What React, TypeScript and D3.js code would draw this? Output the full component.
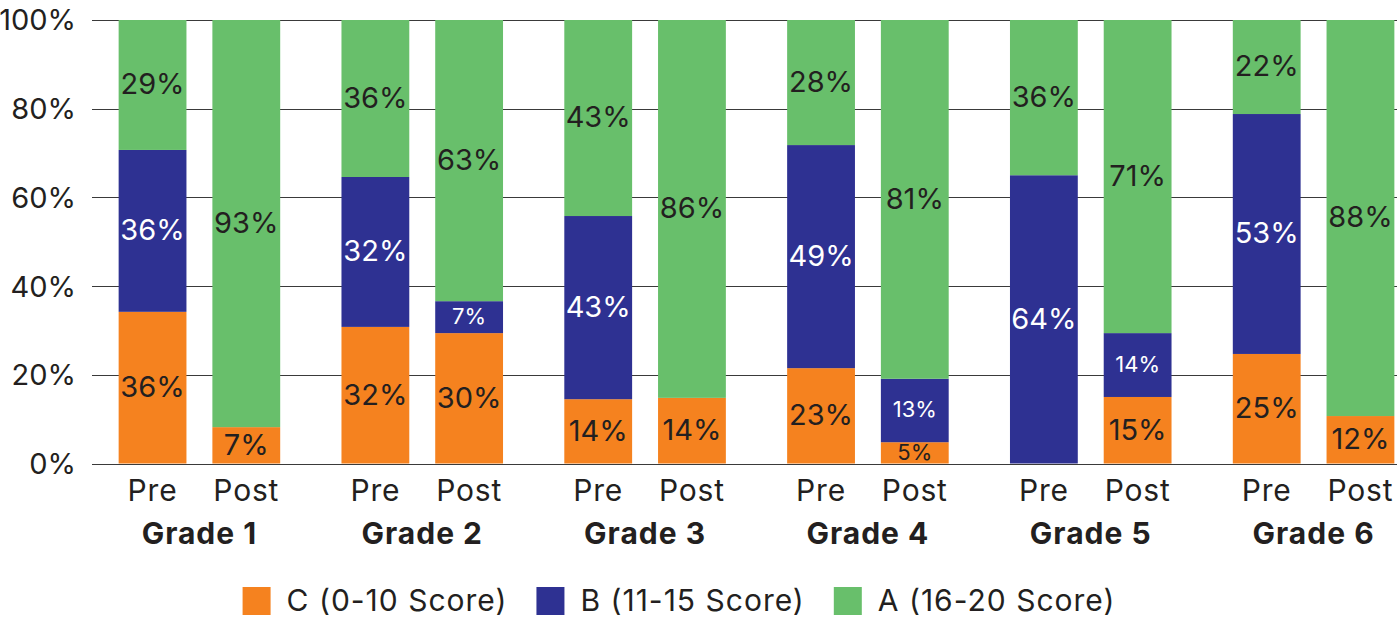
import React, { useEffect, useRef } from 'react'
import * as d3 from 'd3'

const grades = ['Grade 1', 'Grade 2', 'Grade 3', 'Grade 4', 'Grade 5', 'Grade 6']
const phases = ['Pre', 'Post']

// share of each bar (percent of bar height), order: G1 Pre, G1 Post, G2 Pre, ...
const cShare = [34.2, 8.2, 30.8, 29.4, 14.5, 14.8, 21.5, 4.8, 0, 15.0, 24.7, 10.7]
const bShare = [36.5, 0, 33.8, 7.2, 41.3, 0, 50.3, 14.3, 65.0, 14.4, 54.1, 0]
const aShare = [29.3, 91.8, 35.4, 63.4, 44.2, 85.2, 28.2, 80.9, 35.0, 70.6, 21.2, 89.3]

// printed labels
const cLabel = [36, 7, 32, 30, 14, 14, 23, 5, null, 15, 25, 12]
const bLabel = [36, null, 32, 7, 43, null, 49, 13, 64, 14, 53, null]
const aLabel = [29, 93, 36, 63, 43, 86, 28, 81, 36, 71, 22, 88]

const yTicks = [0, 20, 40, 60, 80, 100]

const series = [
  { key: 'C', name: 'C (0-10 Score)', color: '#F5821F', text: '#231F20', share: cShare, label: cLabel },
  { key: 'B', name: 'B (11-15 Score)', color: '#2E3192', text: '#FFFFFF', share: bShare, label: bLabel },
  { key: 'A', name: 'A (16-20 Score)', color: '#68BF6B', text: '#231F20', share: aShare, label: aLabel },
]

const FONT = 'Inter, "Open Sans", sans-serif'

export default function App() {
  const ref = useRef<SVGSVGElement>(null)

  useEffect(() => {
    const svg = d3.select(ref.current)
    svg.selectAll('*').remove()

    const width = 1397
    const height = 620
    svg.attr('viewBox', `0 0 ${width} ${height}`)

    const y = d3.scaleLinear().domain([0, 100]).range([463.5, 20])
    const x0 = d3.scaleBand().domain(grades).range([88, 1425]).paddingInner(0.275).paddingOuter(0.1375)
    const x1 = d3.scaleBand().domain(phases).range([0, x0.bandwidth()]).paddingInner(0.2766)

    // gridlines
    svg.append('g')
      .selectAll('line')
      .data(yTicks)
      .join('line')
      .attr('x1', 92)
      .attr('x2', width)
      .attr('y1', d => Math.round(y(d)) + 0.5)
      .attr('y2', d => Math.round(y(d)) + 0.5)
      .attr('stroke', '#3a3a3a')
      .attr('stroke-width', 1)

    // y tick labels
    svg.append('g')
      .selectAll('text')
      .data(yTicks)
      .join('text')
      .attr('x', 76)
      .attr('y', d => y(d))
      .attr('dy', '0.36em')
      .attr('text-anchor', 'end')
      .attr('font-family', FONT)
      .attr('font-size', 29)
      .attr('fill', '#231F20')
      .text(d => `${d}%`)

    // stacked bars
    const bars = grades.flatMap((g, gi) => phases.map((p, pi) => ({ g, p, i: gi * 2 + pi })))
    bars.forEach(b => {
      let acc = 0
      series.forEach(s => {
        const v = s.share[b.i]
        const y0 = acc
        acc += v
        if (v <= 0) return
        const bx = (x0(b.g) as number) + (x1(b.p) as number)
        svg.append('rect')
          .attr('x', bx)
          .attr('y', y(acc))
          .attr('width', x1.bandwidth())
          .attr('height', y(y0) - y(acc))
          .attr('fill', s.color)
        const lab = s.label[b.i]
        if (lab == null) return
        const small = (s.key === 'B' && lab < 20) || lab < 6
        svg.append('text')
          .attr('x', bx + x1.bandwidth() / 2)
          .attr('y', (y(y0) + y(acc)) / 2 - 1)
          .attr('dy', '0.36em')
          .attr('text-anchor', 'middle')
          .attr('font-family', FONT)
          .attr('font-size', small ? 22 : 29)
          .attr('fill', s.text)
          .text(`${lab}%`)
      })
    })

    // x axis: phase and grade labels
    grades.forEach(g => {
      phases.forEach(p => {
        svg.append('text')
          .attr('x', (x0(g) as number) + (x1(p) as number) + x1.bandwidth() / 2)
          .attr('y', 501)
          .attr('text-anchor', 'middle')
          .attr('font-family', FONT)
          .attr('font-size', 30)
          .attr('letter-spacing', 0.8)
          .attr('fill', '#231F20')
          .text(p)
      })
      svg.append('text')
        .attr('x', (x0(g) as number) + x0.bandwidth() / 2)
        .attr('y', 544)
        .attr('text-anchor', 'middle')
        .attr('font-family', FONT)
        .attr('font-size', 30)
        .attr('letter-spacing', 1)
        .attr('font-weight', 700)
        .attr('fill', '#231F20')
        .text(g)
    })

    // legend, centred
    const legend = svg.append('g')
    const sw = 28
    const gapText = 16
    const gapItem = 29
    let lx = 0
    series.forEach(s => {
      const item = legend.append('g').attr('transform', `translate(${lx},0)`)
      item.append('rect').attr('x', 0).attr('y', 587).attr('width', sw).attr('height', sw).attr('fill', s.color)
      const t = item.append('text')
        .attr('x', sw + gapText)
        .attr('y', 611)
        .attr('font-family', FONT)
        .attr('font-size', 30)
        .attr('letter-spacing', 1)
        .attr('fill', '#231F20')
        .text(s.name)
      const tw = (t.node() as SVGTextElement).getComputedTextLength()
      lx += sw + gapText + tw + gapItem
    })
    const total = lx - gapItem
    legend.attr('transform', `translate(${679 - total / 2},0)`)
  }, [])

  return (
    <svg
      ref={ref}
      width={1397}
      height={620}
      style={{ position: 'absolute', left: 0, top: 0, background: '#fff' }}
    />
  )
}
